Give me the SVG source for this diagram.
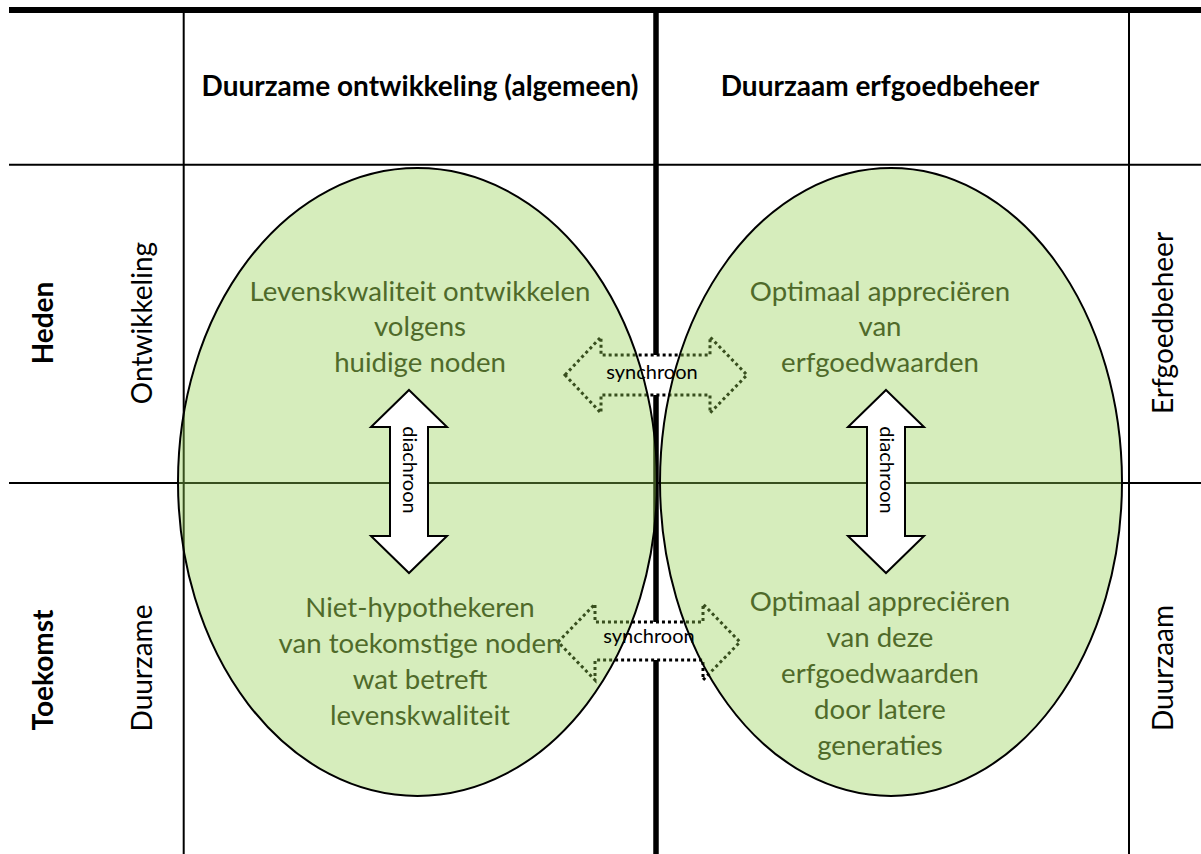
<svg xmlns="http://www.w3.org/2000/svg" width="1201" height="854" viewBox="0 0 1201 854">
<style>
.thin{stroke:#000;stroke-width:2;fill:none}
.thick{stroke:#000;stroke-width:6;fill:none}
.ell{fill:#92d050;fill-opacity:0.38;stroke:#000;stroke-width:2}
.sync{fill:#fff;stroke:#000;stroke-width:3;stroke-dasharray:3 3}
.dia{fill:#fff;stroke:#000;stroke-width:2}
text{font-family:Lato,"Liberation Sans",sans-serif;font-size:28px;text-anchor:middle;fill:#000}
.b{font-weight:bold}
.etx{fill:#4f6a2a;font-size:27.6px}
.sm{font-size:20px}
</style>
<rect width="1201" height="854" fill="#fff"/>
<g id="grid">
<line class="thin" x1="9" y1="164.7" x2="1201" y2="164.7"/>
<line class="thin" x1="9" y1="483" x2="1201" y2="483"/>
<line class="thin" x1="183.7" y1="10" x2="183.7" y2="854"/>
<line class="thin" x1="1129" y1="10" x2="1129" y2="854"/>
<line class="thick" x1="656" y1="10" x2="656" y2="854" style="stroke-width:5.5"/>
<line class="thick" x1="9" y1="10" x2="1201" y2="10"/>
</g>
<g id="connectors-synchroon">
<polygon class="sync" points="565,375 601,337 601,355 710,355 710,337 747,375 710,413 710,395 601,395 601,413"/>
<polygon class="sync" points="558,642 595,604 595,622 703,622 703,604 740,642 703,680 703,660 595,660 595,680"/>
</g>
<g id="node-dev">
<ellipse class="ell" cx="417.5" cy="482" rx="239.5" ry="314"/>
<text class="etx" x="420" y="301">Levenskwaliteit ontwikkelen</text>
<text class="etx" x="420" y="336">volgens</text>
<text class="etx" x="420" y="372">huidige noden</text>
<text class="etx" x="420" y="617">Niet-hypothekeren</text>
<text class="etx" x="420" y="653">van toekomstige noden</text>
<text class="etx" x="420" y="689">wat betreft</text>
<text class="etx" x="420" y="725">levenskwaliteit</text>
</g>
<g id="node-heritage">
<ellipse class="ell" cx="891" cy="482" rx="231" ry="314"/>
<text class="etx" x="880" y="301">Optimaal appreciëren</text>
<text class="etx" x="880" y="336">van</text>
<text class="etx" x="880" y="372">erfgoedwaarden</text>
<text class="etx" x="880" y="611">Optimaal appreciëren</text>
<text class="etx" x="880" y="647">van deze</text>
<text class="etx" x="880" y="683">erfgoedwaarden</text>
<text class="etx" x="880" y="719">door latere</text>
<text class="etx" x="880" y="755">generaties</text>
</g>
<g id="connectors-diachroon">
<polygon class="dia" points="409,390 447,427 428,427 428,536 447,536 409,573 371,536 390,536 390,427 371,427"/>
<polygon class="dia" points="886,390 924,427 905,427 905,536 924,536 886,573 848,536 867,536 867,427 848,427"/>
<text class="sm" transform="translate(403,470) rotate(90)">diachroon</text>
<text class="sm" transform="translate(880,470) rotate(90)">diachroon</text>
<text class="sm" x="652" y="379">synchroon</text>
<text class="sm" x="649" y="643">synchroon</text>
</g>
<g id="headers">
<text class="b" x="420" y="96">Duurzame ontwikkeling (algemeen)</text>
<text class="b" x="880" y="96">Duurzaam erfgoedbeheer</text>
<text class="b" transform="translate(53,323) rotate(-90)">Heden</text>
<text class="b" transform="translate(53,670) rotate(-90)">Toekomst</text>
<text transform="translate(152,323) rotate(-90)">Ontwikkeling</text>
<text transform="translate(152,668) rotate(-90)">Duurzame</text>
<text transform="translate(1173,323) rotate(-90)">Erfgoedbeheer</text>
<text transform="translate(1173,668) rotate(-90)">Duurzaam</text>
</g>
</svg>
